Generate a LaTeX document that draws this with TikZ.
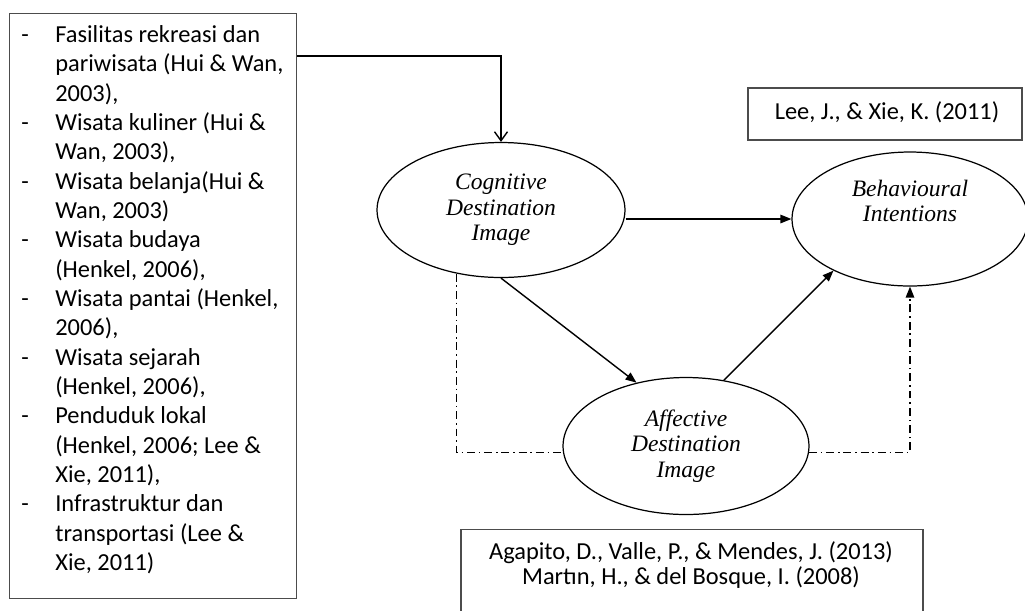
\documentclass[tikz,border=0pt]{standalone}
\usepackage{fontspec}
\setmainfont{Carlito}
\newfontfamily\timesfont{Liberation Serif}
\usetikzlibrary{positioning,arrows.meta,shapes.geometric}

\newcommand{\itm}{\makebox[0.68cm][l]{-}}
\newcommand{\cnt}{\hspace*{0.68cm}}

\begin{document}
\begin{tikzpicture}[
  x=0.02cm, y=-0.02cm,
  font=\fontsize{13.9}{16.7}\selectfont,
  ref/.style={draw=black!70, line width=0.7pt, inner sep=0pt},
  img/.style={draw, ellipse, line width=0.7pt, inner sep=0pt, align=center,
              font=\timesfont\itshape\fontsize{13.4}{14.6}\selectfont},
  path/.style={-{Triangle[length=2.2mm, width=1.7mm]}, line width=0.8pt},
  dd/.style={line width=0.7pt, dash pattern=on 4.5pt off 2.2pt on 0.9pt off 2.2pt},
]
  \useasboundingbox (0,0) rectangle (1025,610);

  % list of attributes on the left
  \node[ref, minimum width=5.74cm, minimum height=11.7cm, anchor=north west]
       (attr) at (9,13) {};
  \node[anchor=north west, align=left, inner sep=0pt] (items) at (21,25)
       {\itm Fasilitas rekreasi dan\\
        \cnt pariwisata (Hui \& Wan,\\
        \cnt 2003),\\
        \itm Wisata kuliner (Hui \&\\
        \cnt Wan, 2003),\\
        \itm Wisata belanja(Hui \&\\
        \cnt Wan, 2003)\\
        \itm Wisata budaya\\
        \cnt (Henkel, 2006),\\
        \itm Wisata pantai (Henkel,\\
        \cnt 2006),\\
        \itm Wisata sejarah\\
        \cnt (Henkel, 2006),\\
        \itm Penduduk lokal\\
        \cnt (Henkel, 2006; Lee \&\\
        \cnt Xie, 2011),\\
        \itm Infrastruktur dan\\
        \cnt transportasi (Lee \&\\
        \cnt Xie, 2011)};

  % the three images
  \node[img, minimum width=4.96cm, minimum height=2.7cm] (cog) at (501,210)
       {Cognitive\\ Destination\\ Image};
  \node[img, minimum width=4.72cm, minimum height=2.68cm] (beh) at (910,219) {};
  \node[img, draw=none, above=0.36cm of beh.center, anchor=center] (behtxt)
       {Behavioural\\ Intentions};
  \node[img, minimum width=4.92cm, minimum height=2.74cm] (aff) at (686,446)
       {Affective\\ Destination\\ Image};

  % sources
  \node[ref, minimum width=5.48cm, minimum height=1.04cm] (lee) at (885,114) {};
  \node (leetxt) at (887,112) {Lee, J., \& Xie, K. (2011)};
  \node[ref, minimum width=9.24cm, minimum height=2cm, anchor=north] (agbox) at (692,529) {};
  \node[align=center, font=\fontsize{13.9}{14.2}\selectfont] (agtxt) at (691,565)
       {Agapito, D., Valle, P., \& Mendes, J. (2013)\\
        Martın, H., \& del Bosque, I. (2008)};

  % arrows
  \draw[-{Straight Barb[length=1.8mm, width=2.6mm]}, line width=0.8pt]
       ([yshift=-0.86cm]attr.north east) -| (cog.north);
  \draw[path] (cog.east |- beh.west) -- (beh.west);
  \draw[path] (cog.south) -- (aff.128);
  \draw[path] (aff.60) -- (beh.214);
  \draw[dd] (cog.235) |- (aff.183);
  \draw[dd, -{Triangle[length=2.2mm, width=1.7mm]}] (aff.357) -| (beh.south);
\end{tikzpicture}
\end{document}
